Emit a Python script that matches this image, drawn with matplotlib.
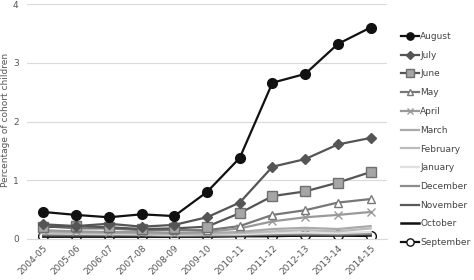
import matplotlib
matplotlib.use("Agg")
import matplotlib.pyplot as plt

years = ["2004-05", "2005-06", "2006-07", "2007-08", "2008-09", "2009-10",
         "2010-11", "2011-12", "2012-13", "2013-14", "2014-15"]

august = [0.46, 0.41, 0.37, 0.42, 0.39, 0.80, 1.38, 2.66, 2.81, 3.32, 3.60]
july = [0.25, 0.22, 0.26, 0.21, 0.24, 0.37, 0.62, 1.23, 1.36, 1.61, 1.72]
june = [0.20, 0.22, 0.20, 0.17, 0.18, 0.21, 0.44, 0.73, 0.81, 0.96, 1.14]
may = [0.22, 0.18, 0.18, 0.15, 0.15, 0.15, 0.22, 0.41, 0.49, 0.62, 0.68]
april = [0.15, 0.13, 0.12, 0.12, 0.10, 0.12, 0.18, 0.30, 0.37, 0.41, 0.46]
march = [0.13, 0.12, 0.11, 0.10, 0.09, 0.10, 0.12, 0.17, 0.19, 0.17, 0.22]
february = [0.11, 0.10, 0.10, 0.09, 0.08, 0.09, 0.10, 0.13, 0.15, 0.13, 0.18]
january = [0.10, 0.09, 0.09, 0.08, 0.07, 0.08, 0.08, 0.10, 0.11, 0.10, 0.12]
december = [0.08, 0.08, 0.07, 0.07, 0.06, 0.07, 0.07, 0.08, 0.09, 0.08, 0.09]
november = [0.06, 0.06, 0.06, 0.06, 0.05, 0.05, 0.06, 0.07, 0.07, 0.07, 0.08]
october = [0.04, 0.04, 0.04, 0.04, 0.04, 0.04, 0.05, 0.05, 0.06, 0.06, 0.06]
september = [0.05, 0.05, 0.05, 0.05, 0.04, 0.05, 0.05, 0.05, 0.06, 0.06, 0.05]

series = [
    ("August", august, dict(color="#111111", marker="o", ms=7, mfc="#111111", mec="#111111", lw=1.6)),
    ("July", july, dict(color="#555555", marker="D", ms=5, mfc="#555555", mec="#555555", lw=1.6)),
    ("June", june, dict(color="#555555", marker="s", ms=7, mfc="#a6a6a6", mec="#707070", lw=1.6)),
    ("May", may, dict(color="#777777", marker="^", ms=6, mfc="white", mec="#777777", lw=1.6)),
    ("April", april, dict(color="#999999", marker="x", ms=6, mfc="#999999", mec="#999999", lw=1.6)),
    ("March", march, dict(color="#aaaaaa", lw=1.6)),
    ("February", february, dict(color="#bbbbbb", lw=1.6)),
    ("January", january, dict(color="#e0e0e0", lw=1.6)),
    ("December", december, dict(color="#8c8c8c", lw=1.6)),
    ("November", november, dict(color="#595959", lw=1.6)),
    ("October", october, dict(color="#111111", lw=1.8)),
    ("September", september, dict(color="#111111", marker="o", ms=7, mfc="white", mec="#111111", lw=1.6)),
]

fig = plt.figure(figsize=(4.74, 2.8), dpi=100)
ax = fig.add_axes([27/474, (280-239)/280, (387-27)/474, (239-4)/280])

x = list(range(len(years)))
for name, vals, st in reversed(series):
    ax.plot(x, vals, label=name, **st)

ax.set_xlim(-0.5, len(years) - 0.5)
ax.set_ylim(0, 4)
ax.set_yticks([0, 1, 2, 3, 4])
ax.set_xticks(x)
ax.set_xticklabels(years, rotation=45, ha="right", rotation_mode="anchor")
ax.tick_params(axis="both", labelsize=6.5, colors="#555555", length=0)
ax.tick_params(axis="y", pad=6)
ax.grid(axis="y", color="#d9d9d9", lw=0.8)
ax.set_axisbelow(True)
for s in ["top", "right", "left"]:
    ax.spines[s].set_visible(False)
ax.spines["bottom"].set_color("#d9d9d9")
fig.text(6/474, 1 - 120/280, "Percentage of cohort children", rotation=90,
         ha="center", va="center", fontsize=6.5, color="#555555")

handles, labels = ax.get_legend_handles_labels()
handles = handles[::-1]
labels = labels[::-1]
leg = fig.legend(handles, labels, loc="upper left", bbox_to_anchor=(401/474, 1 - 32/280),
                 frameon=False, fontsize=6.5, labelspacing=1.08, handlelength=2.0,
                 handletextpad=0.15, markerscale=0.75, borderaxespad=0, borderpad=0)
for t in leg.get_texts():
    t.set_color("#444444")

fig.savefig("out.png", dpi=100)
